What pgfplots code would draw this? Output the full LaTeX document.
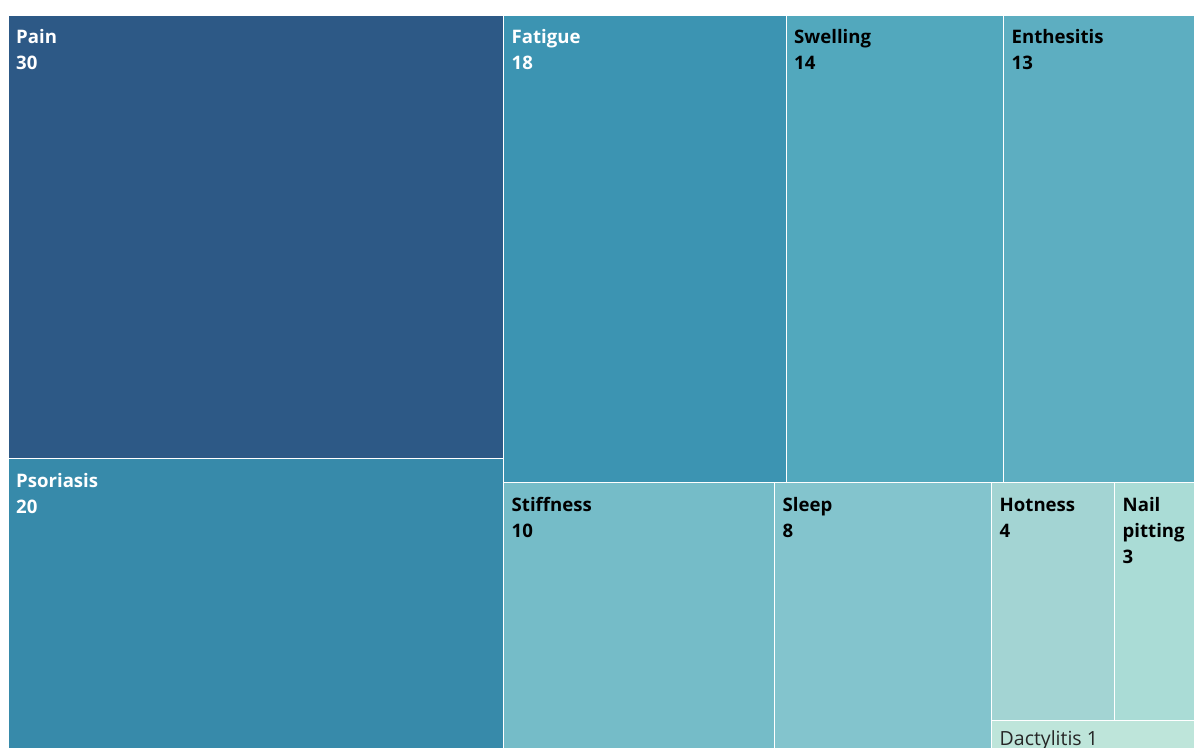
\documentclass[border=0pt]{standalone}
\usepackage{pgfplots}
\pgfplotsset{compat=1.18}
\usepackage{fontspec}
\setmainfont{Open Sans}
\definecolor{cPain}{RGB}{45,89,134}
\definecolor{cPso}{RGB}{55,138,170}
\definecolor{cFat}{RGB}{60,148,178}
\definecolor{cSwe}{RGB}{82,168,189}
\definecolor{cEnt}{RGB}{93,174,193}
\definecolor{cSti}{RGB}{117,188,200}
\definecolor{cSle}{RGB}{131,196,205}
\definecolor{cHot}{RGB}{163,212,211}
\definecolor{cNai}{RGB}{170,220,214}
\definecolor{cDac}{RGB}{190,229,218}
\newcommand{\lab}[5]{% x0,y0,name,value,color
  \node[anchor=base west,inner sep=0pt,text=#5,font=\fontsize{18.6}{20}\selectfont\bfseries] at (axis cs:#1+8,#2+28) {#3};
  \node[anchor=base west,inner sep=0pt,text=#5,font=\fontsize{18.6}{20}\selectfont\bfseries] at (axis cs:#1+8,#2+54) {#4};}
\begin{document}
\begin{tikzpicture}
\begin{axis}[
  width=1194pt,height=747pt,scale only axis,
  xmin=0,xmax=1194,ymin=0,ymax=747,y dir=reverse,
  hide axis,clip=true,
]
\addplot[draw=none,fill=white,forget plot] coordinates {(0,0) (1194,0) (1194,747) (0,747)} --cycle;
\pgfplotsset{every axis plot/.append style={draw=white,line width=1pt}}
% Pain
\addplot[fill=cPain] coordinates {(8,15) (503.5,15) (503.5,458.5) (8,458.5)} --cycle;
% Psoriasis
\addplot[fill=cPso] coordinates {(8,458.5) (503.5,458.5) (503.5,760) (8,760)} --cycle;
% Fatigue
\addplot[fill=cFat] coordinates {(503.5,15) (786,15) (786,482.5) (503.5,482.5)} --cycle;
% Swelling
\addplot[fill=cSwe] coordinates {(786,15) (1003.5,15) (1003.5,482.5) (786,482.5)} --cycle;
% Enthesitis
\addplot[fill=cEnt] coordinates {(1003.5,15) (1194.5,15) (1194.5,482.5) (1003.5,482.5)} --cycle;
% Stiffness
\addplot[fill=cSti] coordinates {(503.5,482.5) (774.5,482.5) (774.5,760) (503.5,760)} --cycle;
% Sleep
\addplot[fill=cSle] coordinates {(774.5,482.5) (991.5,482.5) (991.5,760) (774.5,760)} --cycle;
% Hotness
\addplot[fill=cHot] coordinates {(991.5,482.5) (1114.5,482.5) (1114.5,720.5) (991.5,720.5)} --cycle;
% Nail pitting
\addplot[fill=cNai] coordinates {(1114.5,482.5) (1194.5,482.5) (1194.5,720.5) (1114.5,720.5)} --cycle;
% Dactylitis
\addplot[fill=cDac] coordinates {(991.5,720.5) (1194.5,720.5) (1194.5,760) (991.5,760)} --cycle;
\lab{8}{15}{Pain}{30}{white}
\lab{8}{459}{Psoriasis}{20}{white}
\lab{503.5}{15}{Fatigue}{18}{white}
\lab{786}{15}{Swelling}{14}{black}
\lab{1003.5}{15}{Enthesitis}{13}{black}
\lab{503.5}{483}{Stiffness}{10}{black}
\lab{774.5}{483}{Sleep}{8}{black}
\lab{991.5}{483}{Hotness}{4}{black}
\node[anchor=base west,inner sep=0pt,font=\fontsize{18.6}{20}\selectfont\bfseries] at (axis cs:1122.5,511) {Nail};
\node[anchor=base west,inner sep=0pt,font=\fontsize{18.6}{20}\selectfont\bfseries] at (axis cs:1122.5,537) {pitting};
\node[anchor=base west,inner sep=0pt,font=\fontsize{18.6}{20}\selectfont\bfseries] at (axis cs:1122.5,563) {3};
\node[anchor=base west,inner sep=0pt,text=black!85,font=\fontsize{19.5}{20}\selectfont] at (axis cs:999.5,745) {Dactylitis 1};
\end{axis}
\end{tikzpicture}
\end{document}
